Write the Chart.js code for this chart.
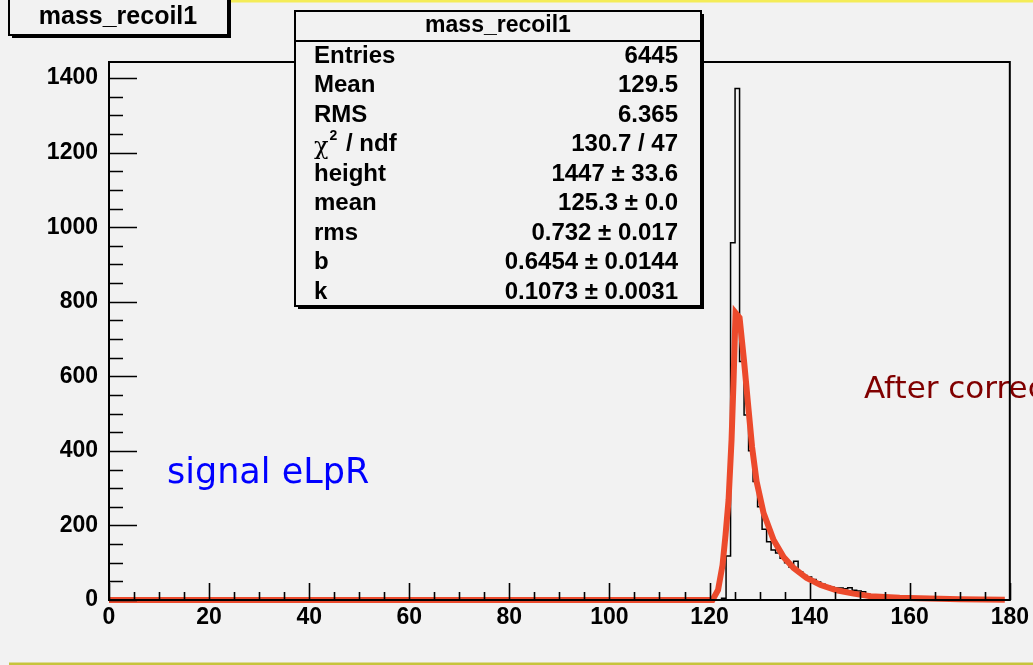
<!DOCTYPE html>
<html>
<head>
<meta charset="utf-8">
<script src="https://cdn.jsdelivr.net/npm/chart.js@4.4.0/dist/chart.umd.min.js"></script>
<style>
  html, body { margin:0; padding:0; background:#f2f2f2; }
  canvas { display:block; }
</style>
</head>
<body>
<canvas id="c" width="1033" height="665"></canvas>
<script>
// --- histogram: 0.9 wide bins, all empty outside this window ---
const histStart = 121.5;
const binWidth = 0.9;
const histCounts = [
  0, 5, 118, 958, 1372, 640, 496, 400, 318, 250,
  190, 156, 134, 126, 112, 100, 88, 104, 76, 66,
  62, 55, 48, 42, 38, 34, 32, 32, 30, 33,
  26, 24, 22, 15, 12, 10, 8, 7, 6, 5,
  4, 3, 3, 2, 2, 1, 0
];

const fitX = [0, 120.6, 121.7, 122.6, 123.2, 123.8, 124.4, 124.8, 125.2, 126.0, 126.9,
              127.8, 128.5, 129.4, 130.8, 132.8, 134.8, 136.8, 139.4, 142.2, 145.4,
              148.8, 152.2, 158, 164, 170, 179];
const fitY = [0, 0, 27, 94, 175, 268, 430, 590, 770, 757, 640,
              510, 410, 318, 233, 161, 115, 86, 59, 40, 26,
              17, 10, 6, 4, 2, 1];

// --- axes ---
const xTicks = [0, 20, 40, 60, 80, 100, 120, 140, 160, 180];
const yTicks = [0, 200, 400, 600, 800, 1000, 1200, 1400];
const xMinorStep = 5;
const yMinorStep = 50;
const yMax = 1443;

// --- stats box ---
const statsTitle = "mass_recoil1";
const statsLabels = ["Entries", "Mean", "RMS", "chi2", "height", "mean", "rms", "b", "k"];
const statsValues = ["6445", "129.5", "6.365", "130.7 / 47", "1447 \u00b1 33.6", "125.3 \u00b1 0.0",
                     "0.732 \u00b1 0.017", "0.6454 \u00b1 0.0144", "0.1073 \u00b1 0.0031"];

const FONT = '"Liberation Sans", Arial, Helvetica, sans-serif';

const histData = [{x: 0, y: 0}]
  .concat(histCounts.map((c, i) => ({x: histStart + i * binWidth, y: c})))
  .concat([{x: 180, y: 0}]);
const fitData = fitX.map((x, i) => ({x: x, y: fitY[i]}));

function boxWithShadow(ctx, x, y, w, h) {
  ctx.fillStyle = '#000';
  ctx.fillRect(x + 3, y + 3, w, h);
  ctx.fillStyle = '#f2f2f2';
  ctx.fillRect(x, y, w, h);
  ctx.strokeStyle = '#000';
  ctx.lineWidth = 2;
  ctx.strokeRect(x, y, w, h);
}

const rootStyle = {
  id: 'rootStyle',
  beforeDraw(chart) {
    const ctx = chart.ctx;
    ctx.save();
    ctx.fillStyle = '#f2f2f2';
    ctx.fillRect(0, 0, chart.width, chart.height);
    ctx.fillStyle = '#f4ec58';
    ctx.fillRect(9, 0, chart.width - 9, 2.5);
    ctx.fillStyle = '#c6c43c';
    ctx.fillRect(9, 662.5, chart.width - 9, 3);
    ctx.restore();
  },
  afterDatasetsDraw(chart) {
    const ctx = chart.ctx;
    const xs = chart.scales.x, ys = chart.scales.y;
    const {left, right, top, bottom} = chart.chartArea;
    ctx.save();
    // annotations
    ctx.textBaseline = 'alphabetic';
    ctx.textAlign = 'left';
    ctx.fillStyle = '#0000ff';
    ctx.font = '35px "DejaVu Sans", sans-serif';
    ctx.fillText('signal eLpR', 167, 483);
    ctx.fillStyle = '#800000';
    ctx.font = '31px "DejaVu Sans", sans-serif';
    ctx.fillText('After correction', 864, 398);

    // frame
    ctx.strokeStyle = '#000';
    ctx.lineWidth = 2;
    ctx.strokeRect(left, top, right - left, bottom - top);
    // ticks pointing inward
    ctx.lineWidth = 1.6;
    ctx.beginPath();
    for (let v = 0; v <= 180; v += xMinorStep) {
      const px = Math.round(xs.getPixelForValue(v)) + 0.5;
      const len = xTicks.includes(v) ? 17 : 8;
      ctx.moveTo(px, bottom);
      ctx.lineTo(px, bottom - len);
    }
    for (let v = 0; v <= yMax; v += yMinorStep) {
      const py = Math.round(ys.getPixelForValue(v)) + 0.5;
      const len = yTicks.includes(v) ? 28 : 14;
      ctx.moveTo(left, py);
      ctx.lineTo(left + len, py);
    }
    ctx.stroke();
    ctx.restore();
  },
  afterDraw(chart) {
    const ctx = chart.ctx;
    ctx.save();
    // title box
    boxWithShadow(ctx, 9, -4, 219, 39);
    ctx.fillStyle = '#000';
    ctx.font = 'bold 25px ' + FONT;
    ctx.textAlign = 'center';
    ctx.textBaseline = 'middle';
    ctx.fillText(statsTitle, 118, 17);

    // stats box
    const bx = 295, by = 11, bw = 406, bh = 295;
    boxWithShadow(ctx, bx, by, bw, bh);
    ctx.beginPath();
    ctx.moveTo(bx, 41);
    ctx.lineTo(bx + bw, 41);
    ctx.stroke();
    ctx.fillStyle = '#000';
    ctx.font = 'bold 23px ' + FONT;
    ctx.fillText(statsTitle, bx + bw / 2, 26);

    const rowY0 = 56, rowStep = 29.5;
    statsLabels.forEach((lab, i) => {
      const y = rowY0 + i * rowStep;
      ctx.textAlign = 'left';
      if (lab === 'chi2') {
        ctx.font = '24px "DejaVu Serif", serif';
        ctx.fillText('\u03c7', 314, y + 3);
        let x = 314 + ctx.measureText('\u03c7').width + 1;
        ctx.font = 'bold 14px ' + FONT;
        ctx.fillText('2', x, y - 8);
        x += ctx.measureText('2').width + 2;
        ctx.font = 'bold 24px ' + FONT;
        ctx.fillText(' / ndf', x, y);
      } else {
        ctx.font = 'bold 24px ' + FONT;
        ctx.fillText(lab, 314, y);
      }
      ctx.textAlign = 'right';
      ctx.font = 'bold 24px ' + FONT;
      ctx.fillText(statsValues[i], 678, y);
    });
    ctx.restore();
  }
};

new Chart(document.getElementById('c'), {
  type: 'line',
  data: {
    datasets: [
      {
        label: 'fit',
        data: fitData,
        borderColor: '#ec4a2c',
        borderWidth: 6,
        pointRadius: 0,
        tension: 0,
        clip: false
      },
      {
        label: 'mass_recoil1',
        data: histData,
        borderColor: '#000',
        borderWidth: 1.5,
        pointRadius: 0,
        stepped: 'before',
        clip: false
      }
    ]
  },
  options: {
    responsive: false,
    animation: false,
    devicePixelRatio: 1,
    layout: { padding: { left: 0, top: 62, right: 22, bottom: 0 } },
    plugins: { legend: { display: false }, tooltip: { enabled: false } },
    scales: {
      x: {
        type: 'linear',
        min: 0, max: 180,
        grid: { display: false, drawTicks: false },
        border: { display: false },
        afterBuildTicks: s => { s.ticks = xTicks.map(v => ({value: v})); },
        afterFit: s => { s.height = 65; },
        ticks: {
          color: '#000',
          padding: 4,
          maxRotation: 0,
          autoSkip: false,
          callback: v => String(v),
          font: { family: FONT, size: 23, weight: 'bold' }
        }
      },
      y: {
        type: 'linear',
        min: 0, max: yMax,
        grid: { display: false, drawTicks: false },
        border: { display: false },
        afterBuildTicks: s => { s.ticks = yTicks.map(v => ({value: v})); },
        afterFit: s => { s.width = 109; },
        ticks: {
          color: '#000',
          padding: 11,
          callback: v => String(v),
          font: { family: FONT, size: 23, weight: 'bold' }
        }
      }
    }
  },
  plugins: [rootStyle]
});
</script>
</body>
</html>
